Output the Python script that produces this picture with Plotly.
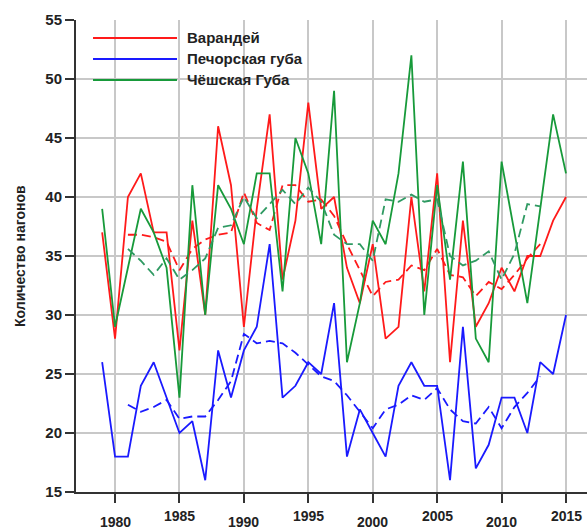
import plotly.graph_objects as go

# Years of observation
years = list(range(1979, 2016))
ma_years = list(range(1981, 2014))

# Annual number of surges
varandey = [37, 28, 40, 42, 37, 37, 27, 38, 30, 46, 41, 29, 39, 47, 33, 38, 48, 39, 40,
            34, 31, 36, 28, 29, 40, 32, 42, 26, 38, 29, 31, 34, 32, 35, 35, 38, 40]
pechora = [26, 18, 18, 24, 26, 23, 20, 21, 16, 27, 23, 27, 29, 36, 23, 24, 26, 25, 31,
           18, 22, 20, 18, 24, 26, 24, 24, 16, 29, 17, 19, 23, 23, 20, 26, 25, 30]
cheshskaya = [39, 29, 34, 39, 37, 34, 23, 41, 30, 41, 39, 36, 42, 42, 32, 45, 42, 36, 49,
              26, 31, 38, 36, 42, 52, 30, 41, 33, 43, 28, 26, 43, 37, 31, 39, 47, 42]

# Five-year running means (1981-2013)
varandey_ma = [36.8, 36.8, 36.6, 36.2, 33.8, 35.6, 36.4, 36.8, 37.0, 40.4, 37.8, 37.2,
               41.0, 41.0, 39.6, 39.8, 38.4, 36.0, 33.8, 31.6, 32.8, 33.0, 34.2, 33.8,
               35.6, 33.4, 33.2, 31.6, 32.8, 32.2, 33.4, 34.8, 36.0]
pechora_ma = [22.4, 21.8, 22.2, 22.8, 21.2, 21.4, 21.4, 22.8, 24.4, 28.4, 27.6, 27.8,
              27.6, 26.8, 25.8, 24.8, 24.4, 23.2, 21.8, 20.4, 22.0, 22.4, 23.2, 22.8,
              23.8, 22.0, 21.0, 20.8, 22.2, 20.4, 22.2, 23.4, 24.8]
cheshskaya_ma = [35.6, 34.6, 33.4, 34.8, 33.0, 33.8, 34.8, 37.4, 37.6, 40.0, 38.2, 39.4,
                 40.6, 39.4, 40.8, 39.6, 36.8, 36.0, 36.0, 34.6, 39.8, 39.6, 40.2, 39.6,
                 39.8, 35.0, 34.2, 34.6, 35.4, 33.0, 35.2, 39.4, 39.2]

series_names = ["Варандей", "Печорская губа", "Чёшская Губа"]
x_tick_years = [1980, 1985, 1990, 1995, 2000, 2005, 2010, 2015]
y_ticks = [15, 20, 25, 30, 35, 40, 45, 50, 55]

RED = "#ff1a1a"
BLUE = "#1a1aff"
GREEN = "#179a3a"
GREEN_DASH = "#2f9a62"
FONT = "Arial, Liberation Sans"

fig = go.Figure()

series = [
    (varandey, varandey_ma, RED, RED),
    (pechora, pechora_ma, BLUE, BLUE),
    (cheshskaya, cheshskaya_ma, GREEN, GREEN_DASH),
]
for (vals, ma, col, dcol), name in zip(series, series_names):
    fig.add_trace(go.Scatter(x=years, y=vals, mode="lines", name=name,
                             line=dict(color=col, width=1.8), showlegend=False))
    fig.add_trace(go.Scatter(x=ma_years, y=ma, mode="lines", name=name,
                             line=dict(color=dcol, width=1.8, dash="9px,5px"),
                             showlegend=False))

# Manual legend: long line samples with bold labels
legend_y = [0.9619, 0.9174, 0.8729]
for name, col, ly in zip(series_names, [RED, BLUE, GREEN], legend_y):
    fig.add_shape(type="line", xref="paper", yref="paper",
                  x0=0.0333, x1=0.1977, y0=ly, y1=ly,
                  line=dict(color=col, width=2))
    fig.add_annotation(x=0.2133, y=ly, xref="paper", yref="paper",
                       text=f"<b>{name}</b>", showarrow=False,
                       xanchor="left", yanchor="middle",
                       font=dict(size=15, color="#222222", family=FONT))

# Staggered year labels along the bottom axis
for i, yr in enumerate(x_tick_years):
    fig.add_annotation(x=yr, y=-0.0636 if i % 2 == 0 else -0.0508,
                       xref="x", yref="paper", text=f"<b>{yr}</b>",
                       showarrow=False, xanchor="center", yanchor="middle",
                       font=dict(size=14, color="#222222", family=FONT))

# Vertical axis title
fig.add_annotation(x=-0.1096, y=0.5, xref="paper", yref="paper",
                   text="<b>Количество нагонов</b>", textangle=-90,
                   showarrow=False, xanchor="center", yanchor="middle",
                   font=dict(size=14, color="#222222", family=FONT))

fig.update_xaxes(range=[1976.97, 2016.63], tickvals=x_tick_years,
                 showticklabels=False, ticks="outside", ticklen=9, tickwidth=2,
                 tickcolor="#333333", showgrid=True, gridcolor="#c8c8c8", gridwidth=1.5,
                 showline=True, linecolor="#333333", linewidth=2, zeroline=False)
fig.update_yaxes(range=[15, 55], tickvals=y_ticks,
                 ticktext=[f"<b>{v}</b>" for v in y_ticks],
                 ticks="outside", ticklen=9, tickwidth=2, tickcolor="#333333",
                 tickfont=dict(size=15, color="#222222", family=FONT),
                 showgrid=True, gridcolor="#c8c8c8", gridwidth=1.5,
                 showline=True, linecolor="#333333", linewidth=2, zeroline=False)

fig.update_layout(width=587, height=531,
                  margin=dict(l=76, r=0, t=20, b=39),
                  plot_bgcolor="white", paper_bgcolor="white",
                  showlegend=False)

fig.write_html("out.html")
